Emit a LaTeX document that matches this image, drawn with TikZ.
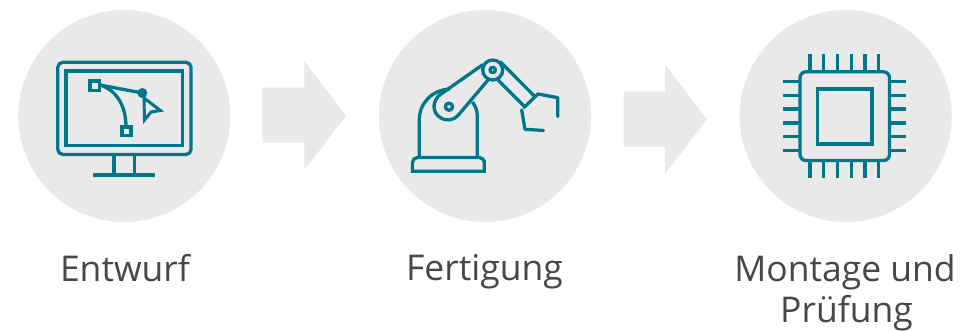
\documentclass[tikz,border=0pt]{standalone}
\usepackage{fontspec}
\setmainfont{Open Sans}
\definecolor{teal1}{HTML}{00778B}
\definecolor{disc}{HTML}{E9E9E9}
\tikzset{
 discnode/.style={circle,fill=disc,draw=none,minimum size=212pt,inner sep=0pt},
 arrowshape/.style={fill=disc,draw=none},
 icon/.style={draw=teal1,line width=3.3pt,line join=round},
 thinicon/.style={draw=teal1,line width=3.5pt,line join=miter},
 label/.style={font=\fontsize{35.5}{42}\selectfont,text=black!72,align=center,inner sep=0pt,anchor=base}
}
\begin{document}
\begin{tikzpicture}[x=1pt,y=-1pt]
\useasboundingbox (0,0) rectangle (971,331);
\node[discnode] (d1) at (124.2,116) {};
\node[discnode] (d2) at (485,116) {};
\node[discnode] (d3) at (845.7,116) {};
% arrows
\fill[arrowshape] (262.7,87.7) -- (304.3,87.7) -- (304.3,61) -- (346,115.7) -- (304.3,170) -- (304.3,142.7) -- (262.7,142.7) -- cycle;
\fill[arrowshape] (623.7,91.7) -- (665,91.7) -- (665,64.3) -- (706.7,119.3) -- (665,174) -- (665,146.7) -- (623.7,146.7) -- cycle;
% monitor
\draw[icon,rounded corners=5pt] (57.8,100) -- (57.8,62.3) -- (191,62.3) -- (191,154.5) -- (57.8,154.5) -- cycle;
\draw[thinicon] (66,71) rectangle (182.3,145.7);
\draw[icon] (114,156) -- (114,175) (134.3,156) -- (134.3,175);
\draw[icon] (93.3,175) -- (155,175);
\draw[thinicon] (90,81) rectangle (99.7,90.7);
\draw[thinicon] (122,127) rectangle (131,135.5);
\draw[icon] (100,85) -- (142.3,93);
\draw[icon] (100,85) .. controls (116,90) and (126,105) .. (126,127);
\fill[teal1] (142.3,93) circle (5pt);
\draw[icon,line width=3pt,line join=miter] (144,98) -- (160.5,110.5) -- (151,112) -- (144.5,120) -- cycle;
% robot
\begin{scope}[shift={(370,0)}]
\draw[icon] (49.3,156) -- (49.3,120) .. controls (49.3,103) and (62,90) .. (80,89);
\draw[icon] (107.3,156) -- (107.3,116) .. controls (107.3,111) and (105.5,106) .. (102.5,102);
\draw[icon,line join=miter] (42.5,171.3) -- (42.5,165) [rounded corners=5pt] -- (42.5,157.5) -- (114.3,157.5) -- (114.3,165) [sharp corners] -- (114.3,171.3) -- cycle;
\draw[icon] (113,64.5) -- (71,94) .. controls (62,100) and (62,112) .. (69.5,117) .. controls (76,122) and (84,120) .. (88,115.5) -- (118,80);
\draw[icon] (79,106.7) circle (3.6pt);
\draw[icon,fill=disc] (122.7,70) circle (10pt);
\draw[icon] (122.7,70) circle (2.7pt);
\draw[icon] (130,61.5) -- (165,96.7);
\draw[icon] (128,80) -- (154,106);
\draw[icon,line cap=round] (154,107.5) -- (168,94) -- (187.7,97.7) -- (187.7,116.5);
\draw[icon,line cap=round] (151.7,110) -- (155,129.3) -- (173.5,130.5);
\end{scope}
% chip
\begin{scope}[shift={(730,0)}]
\draw[icon,rounded corners=6pt] (70,71.8) rectangle (159.5,160.5);
\draw[thinicon] (87.5,89) rectangle (142,144);
\foreach \i in {0,...,5}{
 \draw[icon] ({80+13.72*\i},54.3) -- ({80+13.72*\i},71);
 \draw[icon] ({80+13.72*\i},161) -- ({80+13.72*\i},177.7);
 \draw[icon] (52.7,{81.7+13.72*\i}) -- (69,{81.7+13.72*\i});
 \draw[icon] (160,{81.7+13.72*\i}) -- (176.3,{81.7+13.72*\i});
}
\end{scope}
\node[label] (l1) at (125,281) {Entwurf};
\node[label] (l2) at (484.5,280) {Fertigung};
\node[label] (l3) at (845,281) {Montage und};
\node[label] (l4) at (846.5,322) {Prüfung};
\end{tikzpicture}
\end{document}
